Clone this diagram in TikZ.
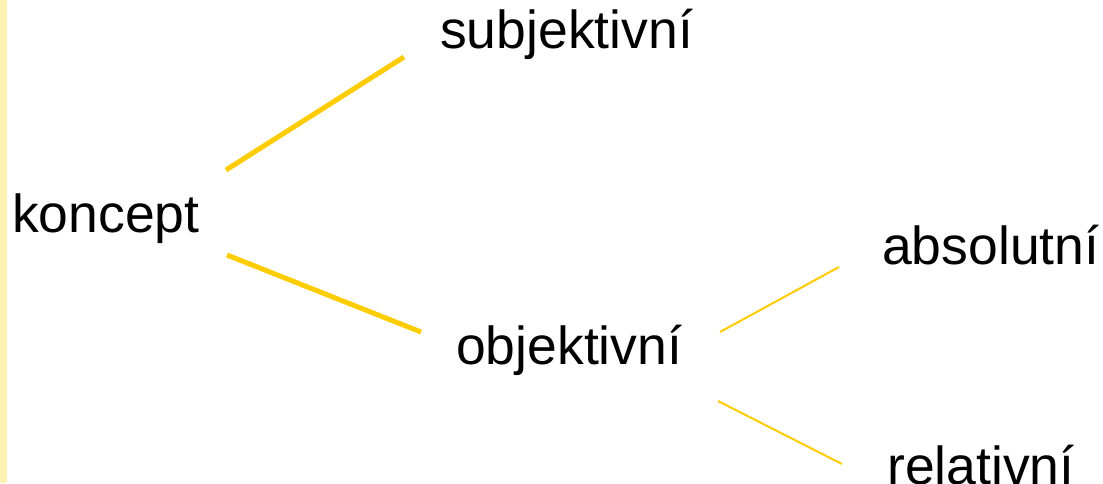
\documentclass[tikz,border=0pt]{standalone}
\usepackage{fontspec}
\setmainfont{Liberation Sans}
\definecolor{linegold}{HTML}{FFCC00}
\definecolor{stripe}{HTML}{FFF0B3}
\begin{document}
\begin{tikzpicture}[x=1pt,y=-1pt,
  lbl/.style={anchor=base west,inner sep=0pt,font=\fontsize{53.5}{60}\selectfont},
  thickcon/.style={draw=linegold,line width=5pt},
  thincon/.style={draw=linegold,line width=2pt}]
\useasboundingbox[fill=white] (0,0) rectangle (1103,483);
\fill[stripe] (0,0) rectangle (7,483);
\node[lbl] (koncept) at (12,232) {koncept};
\node[lbl] (subj) at (440,48) {subjektivní};
\node[lbl] (obj) at (456,364) {objektivní};
\node[lbl] (abs) at (882,264) {absolutní};
\node[lbl] (rel) at (887,484) {relativní};
\coordinate (k1) at (226,170);
\coordinate (s1) at (404,57);
\coordinate (k2) at (227,255);
\coordinate (o1) at (421,332);
\coordinate (o2) at (720,332);
\coordinate (a1) at (839,267);
\coordinate (o3) at (718,401);
\coordinate (r1) at (842,464);
\draw[thickcon] (k1) -- (s1);
\draw[thickcon] (k2) -- (o1);
\draw[thincon] (o2) -- (a1);
\draw[thincon] (o3) -- (r1);
\end{tikzpicture}
\end{document}
